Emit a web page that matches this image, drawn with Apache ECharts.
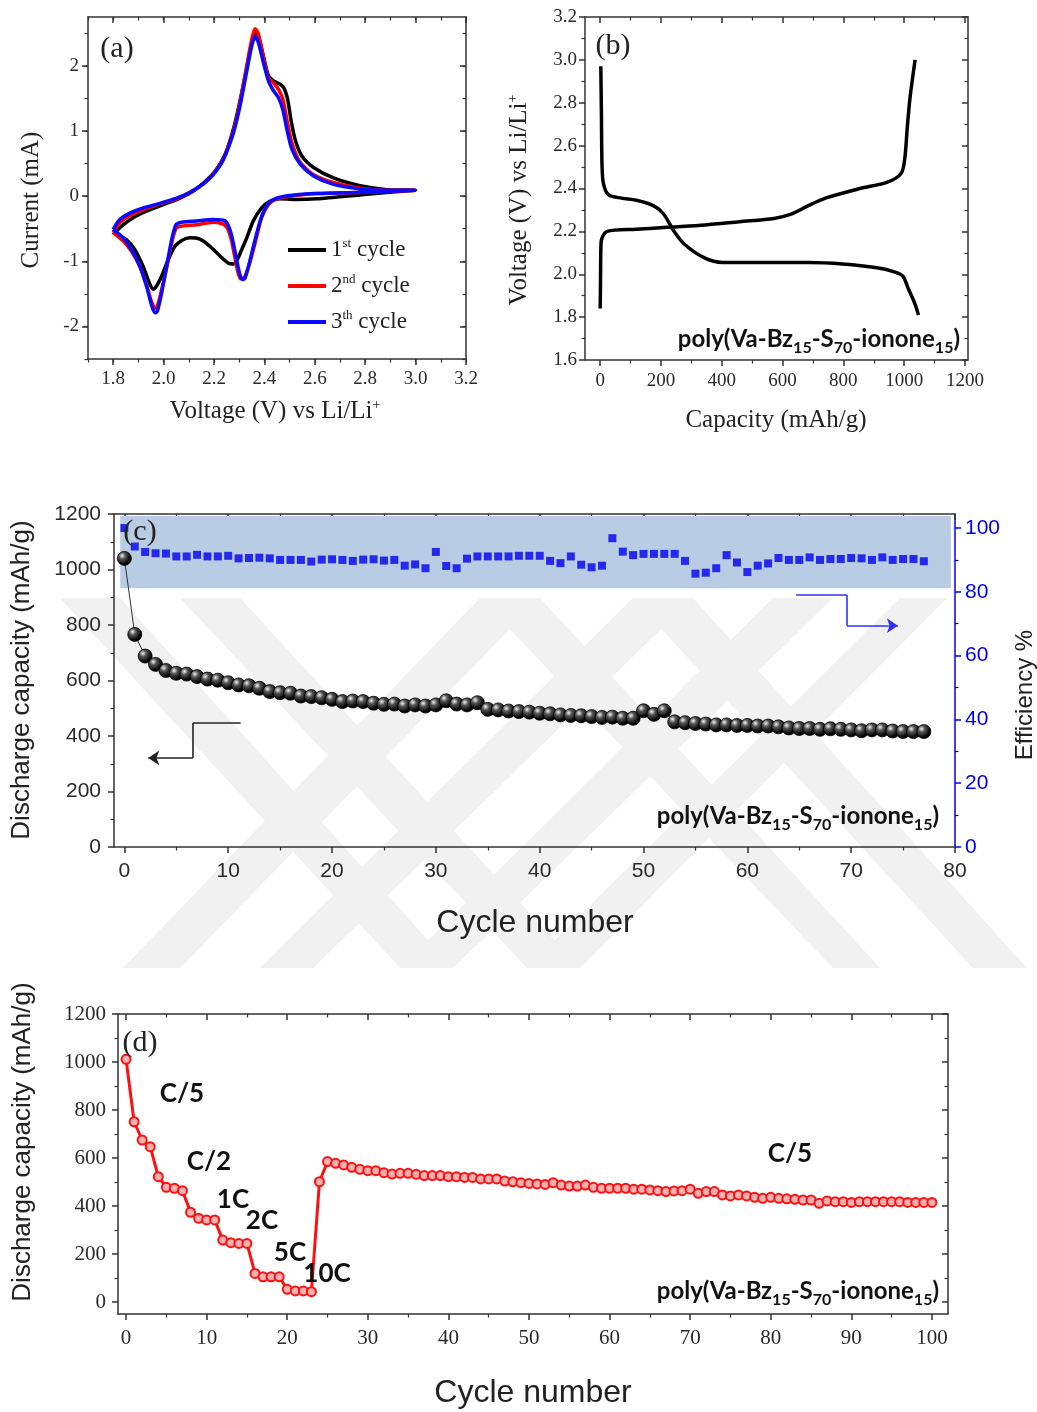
<!DOCTYPE html>
<html>
<head>
<meta charset="utf-8">
<script src="https://cdn.jsdelivr.net/npm/echarts@6/dist/echarts.min.js"></script>
<style>
  html, body { margin: 0; padding: 0; background: #fff; }
  #chart { width: 1037px; height: 1412px; }
</style>
</head>
<body>
<div id="chart"></div>
<script>
// (a) cyclic voltammetry loops, [voltage, current]
const cycle1Loop = [
  [1.8, -0.59], [1.833, -0.46], [1.879, -0.33], [1.932, -0.23], [1.999, -0.13], [2.065, -0.03], [2.118, 0.08],
  [2.164, 0.22], [2.204, 0.38], [2.244, 0.64], [2.277, 1.03], [2.303, 1.46], [2.33, 1.97], [2.35, 2.36],
  [2.363, 2.52], [2.376, 2.46], [2.396, 2.15], [2.416, 1.85], [2.436, 1.77], [2.456, 1.73], [2.476, 1.67],
  [2.492, 1.49], [2.505, 1.18], [2.522, 0.87], [2.548, 0.62], [2.595, 0.44], [2.674, 0.28], [2.78, 0.16],
  [2.886, 0.1], [3.0, 0.09],
  [3.0, 0.08], [2.807, 0.03], [2.608, -0.04], [2.515, -0.05], [2.462, -0.04], [2.422, -0.08], [2.389, -0.18],
  [2.356, -0.38], [2.33, -0.64], [2.31, -0.82], [2.293, -0.97], [2.277, -1.04], [2.257, -1.03], [2.224, -0.92],
  [2.184, -0.77], [2.144, -0.66], [2.105, -0.64], [2.072, -0.68], [2.045, -0.77], [2.019, -0.97], [1.992, -1.23],
  [1.972, -1.38], [1.959, -1.43], [1.943, -1.33], [1.919, -1.08], [1.886, -0.82], [1.853, -0.67], [1.813, -0.59],
  [1.8, -0.56]
]
const cycle2Loop = [
  [1.8, -0.56], [1.826, -0.41], [1.866, -0.3], [1.919, -0.21], [1.985, -0.12], [2.052, -0.04], [2.105, 0.06],
  [2.158, 0.19], [2.197, 0.34], [2.237, 0.57], [2.277, 1.0], [2.303, 1.44], [2.33, 2.0], [2.35, 2.41],
  [2.363, 2.57], [2.376, 2.49], [2.396, 2.13], [2.416, 1.82], [2.436, 1.74], [2.456, 1.64], [2.473, 1.49],
  [2.489, 1.18], [2.509, 0.82], [2.542, 0.52], [2.595, 0.33], [2.674, 0.21], [2.78, 0.12], [2.886, 0.09],
  [3.0, 0.09],
  [3.0, 0.08], [2.807, 0.06], [2.608, 0.04], [2.502, 0.0], [2.449, -0.04], [2.416, -0.13], [2.389, -0.33],
  [2.363, -0.72], [2.34, -1.05], [2.32, -1.25], [2.306, -1.27], [2.294, -1.15], [2.281, -0.9], [2.268, -0.66],
  [2.254, -0.5], [2.237, -0.43], [2.197, -0.4], [2.131, -0.44], [2.072, -0.46], [2.049, -0.5], [2.032, -0.72],
  [2.012, -1.1], [1.992, -1.44], [1.975, -1.69], [1.966, -1.72], [1.952, -1.62], [1.932, -1.36], [1.906, -1.08],
  [1.873, -0.85], [1.84, -0.69], [1.8, -0.56]
]
const cycle3Loop = [
  [1.8, -0.51], [1.826, -0.36], [1.866, -0.26], [1.919, -0.18], [1.985, -0.11], [2.052, -0.03], [2.105, 0.06],
  [2.158, 0.19], [2.197, 0.33], [2.237, 0.56], [2.277, 0.97], [2.303, 1.38], [2.33, 1.92], [2.35, 2.31],
  [2.363, 2.45], [2.376, 2.36], [2.396, 2.05], [2.416, 1.77], [2.436, 1.62], [2.456, 1.51], [2.473, 1.33],
  [2.489, 1.03], [2.509, 0.72], [2.542, 0.49], [2.595, 0.31], [2.674, 0.18], [2.78, 0.11], [2.886, 0.09],
  [3.0, 0.09],
  [3.0, 0.08], [2.807, 0.06], [2.608, 0.04], [2.502, 0.01], [2.449, -0.03], [2.416, -0.11], [2.389, -0.31],
  [2.363, -0.67], [2.34, -1.03], [2.323, -1.26], [2.313, -1.28], [2.301, -1.18], [2.287, -0.92], [2.274, -0.67],
  [2.261, -0.49], [2.244, -0.38], [2.197, -0.36], [2.131, -0.38], [2.072, -0.4], [2.049, -0.44], [2.032, -0.67],
  [2.012, -1.08], [1.992, -1.49], [1.975, -1.77], [1.966, -1.79], [1.952, -1.67], [1.932, -1.38], [1.906, -1.08],
  [1.873, -0.82], [1.84, -0.64], [1.8, -0.51]
]
const cycleNames = ['1st cycle', '2nd cycle', '3th cycle']

// (b) voltage profiles, [capacity, voltage]
const dischargeCurve = [
  [2, 2.97], [4, 2.75], [6, 2.51], [11, 2.42], [28, 2.37], [70, 2.355], [119, 2.345], [175, 2.32], [209, 2.28],
  [243, 2.2], [277, 2.14], [345, 2.075], [402, 2.055], [500, 2.055], [600, 2.055], [685, 2.055], [798, 2.048],
  [911, 2.03], [970, 2.01], [996, 1.99], [1013, 1.935], [1036, 1.86], [1047, 1.81]
]
const chargeCurve = [
  [0, 1.84], [1, 1.96], [3, 2.15], [23, 2.2], [119, 2.21], [232, 2.22], [345, 2.23], [458, 2.245], [572, 2.26],
  [628, 2.28], [685, 2.32], [741, 2.355], [855, 2.4], [945, 2.43], [990, 2.47], [1002, 2.54], [1010, 2.68],
  [1019, 2.82], [1036, 3.0]
]

// (c) cycling, cycle index = array position
const capacityC = [
  1040, 766, 688, 658, 636, 626, 623, 614, 605, 601,
  592, 584, 581, 572, 560, 556, 554, 544, 542, 538,
  532, 524, 526, 524, 518, 514, 515, 508, 512, 508,
  512, 527, 515, 512, 520, 496, 494, 490, 488, 486,
  482, 480, 476, 474, 473, 470, 467, 468, 464, 464,
  491, 478, 491, 451, 448, 445, 443, 440, 440, 438,
  438, 436, 436, 433, 429, 427, 427, 424, 426, 424,
  422, 419, 422, 422, 418, 416, 416, 416
]
const efficiencyC = [
  100, 94.2, 92.5, 92.1, 92.0, 91.1, 91.1, 91.6, 91.1, 91.1,
  91.3, 90.5, 90.6, 90.7, 90.5, 90.0, 90.0, 90.0, 89.5, 90.1,
  90.2, 90.0, 89.7, 90.1, 90.2, 89.8, 90.0, 88.2, 88.6, 87.4,
  92.5, 88.1, 87.4, 90.4, 91.1, 91.1, 91.1, 91.1, 91.3, 91.3,
  91.3, 89.7, 89.0, 91.1, 88.5, 87.7, 88.2, 96.8, 92.6, 91.5,
  91.9, 91.9, 91.9, 91.9, 89.7, 85.7, 86.0, 87.4, 91.5, 89.2,
  86.2, 88.2, 88.9, 90.6, 90.0, 90.0, 90.8, 90.0, 90.3, 90.3,
  90.6, 90.5, 90.0, 90.8, 90.0, 90.3, 90.3, 89.6
]
const effBand = [[-0.4, 81.1], [79.6, 103.8]]
const leftArrowPath = [[11.2, 447], [6.6, 447], [6.6, 321], [2.3, 321]]
const rightArrowPath = [[64.7, 79], [69.6, 79], [69.6, 69.4], [74.5, 69.4]]

// (d) rate capability
const capacityD = [
  1011, 751, 675, 647, 522, 478, 474, 464, 374, 349,
  342, 342, 258, 247, 244, 244, 119, 105, 105, 105,
  53, 46, 46, 43, 501, 585, 578, 571, 561, 553,
  547, 547, 539, 533, 536, 536, 532, 527, 527, 527,
  522, 522, 519, 519, 513, 513, 513, 504, 501, 497,
  494, 492, 490, 497, 487, 483, 483, 487, 478, 474,
  474, 474, 474, 470, 470, 467, 464, 460, 463, 464,
  470, 453, 460, 460, 446, 442, 446, 442, 436, 432,
  436, 432, 430, 428, 425, 425, 411, 421, 418, 418,
  415, 418, 418, 418, 418, 418, 418, 415, 415, 415, 415
]
const rateLabels = [
  { text: 'C/5', x: 182, y: 1094 }, { text: 'C/2', x: 209, y: 1162 }, { text: '1C', x: 233, y: 1200 },
  { text: '2C', x: 262, y: 1221 }, { text: '5C', x: 290, y: 1253 }, { text: '10C', x: 327, y: 1274 },
  { text: 'C/5', x: 790, y: 1154 }
]

const SERIF = '"Liberation Serif","Times New Roman",serif'
const SANS = '"Liberation Sans",Arial,sans-serif'
const BOLD = 'Lato,"Open Sans",sans-serif'
const BLUE = '#0000f0'

function steps(a, b, s) {
  const out = []
  for (let v = a; v <= b + 1e-9; v += s) out.push(+v.toFixed(6))
  return out
}

const xAxis = []
const yAxis = []
// main axis + companion axis for the minor ticks
function addAxis(list, grid, pos, min, max, majors, minors, o) {
  const color = o.color || '#333'
  const common = { type: 'value', gridIndex: grid, position: pos, min: min, max: max, splitLine: { show: false }, silent: true }
  const idx = list.length
  list.push(Object.assign({}, common, {
    axisLine: { show: true, onZero: false, lineStyle: { color: color, width: 1.5 } },
    axisTick: { show: true, inside: !!o.inside, length: 6, customValues: majors, lineStyle: { color: color, width: 1.5 } },
    axisLabel: o.label
      ? { show: true, customValues: majors, margin: o.margin, color: o.labelColor || '#2a2a2a', fontFamily: o.font, fontSize: o.size, formatter: o.fmt || (v => String(v)) }
      : { show: false }
  }))
  list.push(Object.assign({}, common, {
    axisLine: { show: false, onZero: false },
    axisTick: { show: true, inside: !!o.inside, length: 3.5, customValues: minors, lineStyle: { color: color, width: 1.2 } },
    axisLabel: { show: false }
  }))
  return idx
}

const grids = [
  { left: 88, top: 17, width: 378, height: 342 },
  { left: 585, top: 17, width: 383, height: 343 },
  { left: 114, top: 514, width: 841, height: 333 },
  { left: 118, top: 1014, width: 830, height: 300 }
].map(g => Object.assign({ outerBoundsMode: 'none', containLabel: false }, g))

// (a)
const fx1 = v => v.toFixed(1)
const axA = {
  x: addAxis(xAxis, 0, 'bottom', 1.7, 3.2, steps(1.8, 3.2, 0.2), steps(1.7, 3.2, 0.1), { label: true, font: SERIF, size: 19, margin: 11, fmt: fx1 }),
  y: addAxis(yAxis, 0, 'left', -2.5, 2.75, steps(-2, 2, 1), steps(-2.5, 2.5, 0.5), { label: true, font: SERIF, size: 19, margin: 9, fmt: v => String(Math.round(v)) })
}
addAxis(xAxis, 0, 'top', 1.7, 3.2, steps(1.8, 3.2, 0.2), steps(1.7, 3.2, 0.1), { inside: true })
addAxis(yAxis, 0, 'right', -2.5, 2.75, steps(-2, 2, 1), steps(-2.5, 2.5, 0.5), { inside: true })

// (b)
const axB = {
  x: addAxis(xAxis, 1, 'bottom', -50, 1210, steps(0, 1200, 200), steps(100, 1100, 200), { label: true, font: SERIF, size: 19, margin: 12 }),
  y: addAxis(yAxis, 1, 'left', 1.6, 3.2, steps(1.6, 3.2, 0.2), steps(1.7, 3.1, 0.2), { label: true, font: SERIF, size: 19, margin: 8, fmt: fx1 })
}
addAxis(xAxis, 1, 'top', -50, 1210, steps(0, 1200, 200), steps(100, 1100, 200), { inside: true })
addAxis(yAxis, 1, 'right', 1.6, 3.2, steps(1.6, 3.2, 0.2), steps(1.7, 3.1, 0.2), { inside: true })

// (c)
const axC = {
  x: addAxis(xAxis, 2, 'bottom', -1, 80, steps(0, 80, 10), steps(5, 75, 10), { label: true, font: SANS, size: 21, margin: 14 }),
  y: addAxis(yAxis, 2, 'left', 0, 1200, steps(0, 1200, 200), steps(100, 1100, 200), { label: true, font: SANS, size: 21, margin: 13 }),
  y2: addAxis(yAxis, 2, 'right', 0, 104.4, steps(0, 100, 20), steps(10, 90, 20), { label: true, font: SANS, size: 21, margin: 10, color: BLUE, labelColor: BLUE })
}
addAxis(xAxis, 2, 'top', -1, 80, steps(0, 80, 10), steps(5, 75, 10), { inside: true })

// (d)
const axD = {
  x: addAxis(xAxis, 3, 'bottom', -1, 102, steps(0, 100, 10), steps(5, 95, 10), { label: true, font: SERIF, size: 21, margin: 14 }),
  y: addAxis(yAxis, 3, 'left', -50, 1200, steps(0, 1200, 200), steps(100, 1100, 200), { label: true, font: SERIF, size: 21, margin: 12 })
}
addAxis(xAxis, 3, 'top', -1, 102, steps(0, 100, 10), steps(5, 95, 10), { inside: true })
addAxis(yAxis, 3, 'right', -50, 1200, steps(0, 1200, 200), steps(100, 1100, 200), { inside: true })

function cvSeries(name, data, color) {
  return {
    name: name, type: 'line', xAxisIndex: axA.x, yAxisIndex: axA.y, data: data,
    showSymbol: false, smooth: 0.25, lineStyle: { color: color, width: 3.5 }, itemStyle: { color: color }
  }
}

function arrowLine(path, color) {
  const segs = []
  for (let i = 0; i < path.length - 1; i++) {
    const last = i === path.length - 2
    segs.push([{ coord: path[i], symbol: 'none' }, { coord: path[i + 1], symbol: last ? 'arrow' : 'none' }])
  }
  return {
    silent: true, symbolSize: 11, label: { show: false },
    lineStyle: { color: color, width: 1.6, type: 'solid' }, data: segs
  }
}

const sphere = new echarts.graphic.RadialGradient(0.35, 0.32, 0.75, [
  { offset: 0, color: '#f2f2f2' }, { offset: 0.3, color: '#555' }, { offset: 0.75, color: '#050505' }, { offset: 1, color: '#000' }
])

// watermark bands: [topLeft, topRight, bottomLeft, bottomRight] x positions
const wmTop = 598, wmBottom = 968
const wmBands = [
  [60, 120, 400, 453], [180, 240, 527, 580], [480, 540, 833, 880], [633, 693, 973, 1027],
  [480, 540, 123, 180], [633, 693, 260, 313], [773, 833, 400, 453], [900, 947, 527, 580]
]

const polyRich = {
  s: { fontFamily: BOLD, fontWeight: 'bold', fontSize: 16, verticalAlign: 'bottom', lineHeight: 8, fill: '#111' }
}
function polyLabel(x, y) {
  return {
    type: 'text', x: x, y: y, z: 20,
    style: {
      text: 'poly(Va-Bz{s|15}-S{s|70}-ionone{s|15})', rich: polyRich,
      fontFamily: BOLD, fontWeight: 'bold', fontSize: 24, lineHeight: 34, fill: '#111', align: 'right', verticalAlign: 'middle'
    }
  }
}
function txt(text, x, y, font, size, opts) {
  return Object.assign({
    type: 'text', x: x, y: y, z: 20,
    style: Object.assign({ text: text, fontFamily: font, fontSize: size, fill: '#222', align: 'center', verticalAlign: 'middle' }, (opts && opts.style) || {})
  }, opts && opts.rotation ? { rotation: opts.rotation } : {})
}
const supRich = { sup: { fontFamily: SERIF, fontSize: 14, verticalAlign: 'top', lineHeight: 14, fill: '#222' } }
const UP = Math.PI / 2

const graphics = []
wmBands.forEach(b => {
  graphics.push({
    type: 'polygon', z: -10, silent: true,
    shape: { points: [[b[0], wmTop], [b[1], wmTop], [b[3], wmBottom], [b[2], wmBottom]] },
    style: { fill: '#f1f1f1' }
  })
})
graphics.push(
  txt('(a)', 117, 49, SERIF, 30),
  txt('(b)', 613, 46, SERIF, 30),
  txt('(c)', 140, 532, SERIF, 30),
  txt('(d)', 140, 1043, SERIF, 30),
  txt('Current (mA)', 31, 200, SERIF, 25, { rotation: UP }),
  txt('Voltage (V) vs Li/Li{sup|+}', 275, 411, SERIF, 25, { style: { rich: supRich } }),
  txt('Voltage (V) vs Li/Li{sup|+}', 519, 200, SERIF, 25, { rotation: UP, style: { rich: supRich } }),
  txt('Capacity (mAh/g)', 776, 420, SERIF, 25),
  txt('Discharge capacity (mAh/g)', 22, 680, SANS, 26, { rotation: UP }),
  txt('Cycle number', 535, 923, SANS, 32),
  txt('Efficiency %', 1025, 695, SANS, 24, { rotation: UP }),
  txt('Discharge capacity (mAh/g)', 23, 1142, SANS, 26, { rotation: UP }),
  txt('Cycle number', 533, 1393, SANS, 32),
  polyLabel(960, 339),
  polyLabel(939, 816),
  polyLabel(939, 1291)
)
rateLabels.forEach(r => graphics.push(txt(r.text, r.x, r.y, BOLD, 26, { style: { fontWeight: 'bold', fill: '#111' } })))

const option = {
  animation: false,
  backgroundColor: '#fff',
  grid: grids,
  xAxis: xAxis,
  yAxis: yAxis,
  legend: {
    left: 283, top: 232, orient: 'vertical', icon: 'rect', itemWidth: 38, itemHeight: 4, itemGap: 10,
    data: cycleNames,
    formatter: n => ({ '1st cycle': '1{sup|st} cycle', '2nd cycle': '2{sup|nd} cycle', '3th cycle': '3{sup|th} cycle' })[n],
    textStyle: {
      fontFamily: SERIF, fontSize: 23, color: '#222', lineHeight: 26,
      rich: { sup: { fontFamily: SERIF, fontSize: 13, verticalAlign: 'top', lineHeight: 13, color: '#222' } }
    }
  },
  graphic: { elements: graphics },
  series: [
    cvSeries(cycleNames[0], cycle1Loop, '#000'),
    cvSeries(cycleNames[1], cycle2Loop, '#ff0000'),
    cvSeries(cycleNames[2], cycle3Loop, '#0a0aff'),
    {
      type: 'line', xAxisIndex: axB.x, yAxisIndex: axB.y, data: dischargeCurve, showSymbol: false, smooth: 0.3,
      lineStyle: { color: '#000', width: 3.5 }
    },
    {
      type: 'line', xAxisIndex: axB.x, yAxisIndex: axB.y, data: chargeCurve, showSymbol: false, smooth: 0.3,
      lineStyle: { color: '#000', width: 3.5 }
    },
    {
      type: 'scatter', xAxisIndex: axC.x, yAxisIndex: axC.y2, z: 3,
      data: efficiencyC.map((v, i) => [i, v]),
      symbol: 'rect', symbolSize: 8, itemStyle: { color: BLUE },
      markArea: {
        silent: true, itemStyle: { color: '#b8cce4' },
        data: [[{ coord: effBand[0] }, { coord: effBand[1] }]]
      },
      markLine: arrowLine(rightArrowPath, '#3030ff')
    },
    {
      type: 'line', xAxisIndex: axC.x, yAxisIndex: axC.y, z: 5,
      data: capacityC.map((v, i) => [i, v]),
      symbol: 'circle', symbolSize: 14, showAllSymbol: true,
      lineStyle: { color: '#333', width: 1 },
      itemStyle: { color: sphere, borderColor: '#000', borderWidth: 0.8 },
      markLine: arrowLine(leftArrowPath, '#222')
    },
    {
      type: 'line', xAxisIndex: axD.x, yAxisIndex: axD.y, z: 5,
      data: capacityD.map((v, i) => [i, v]),
      symbol: 'circle', symbolSize: 9, showAllSymbol: true,
      lineStyle: { color: '#ff1010', width: 3 },
      itemStyle: { color: '#ffb0b0', borderColor: '#ff1010', borderWidth: 2 }
    }
  ]
}

const chart = echarts.init(document.getElementById('chart'))
chart.setOption(option)
window.addEventListener('resize', () => chart.resize())
</script>
</body>
</html>
